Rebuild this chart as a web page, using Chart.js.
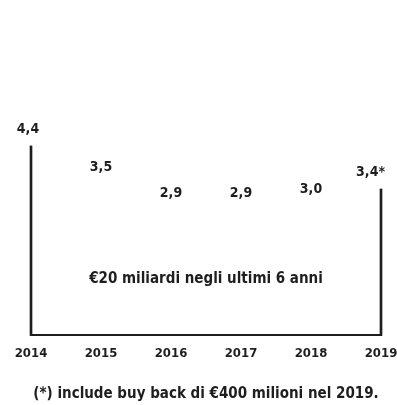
<!DOCTYPE html>
<html>
<head>
<meta charset="utf-8">
<script src="https://cdn.jsdelivr.net/npm/chart.js@4/dist/chart.umd.min.js"></script>
<style>
  html, body { margin: 0; padding: 0; background: #fff; }
  #wrap { width: 397px; height: 405px; }
</style>
</head>
<body>
<div id="wrap"><canvas id="chart"></canvas></div>
<script>
// data
const years = ["2014","2015","2016","2017","2018","2019"];
const payouts = [4.4, 3.5, 2.9, 2.9, 3.0, 3.4];
const marks = ["", "", "", "", "", "*"];
const centerNote = "€20 miliardi negli ultimi 6 anni";
const footNote = "(*) include buy back di €400 milioni nel 2019.";

const ink = '#1e1e1e';
const fontFamily = '"DejaVu Sans Condensed", "DejaVu Sans", sans-serif';

// only the first and last year get a vertical bracket line
const last = payouts.length - 1;
const bracket = payouts.map((v, i) => (i === 0 || i === last) ? v : null);

const fmt = (v, i) => v.toFixed(1).replace('.', ',') + marks[i];

const valueLabels = {
  id: 'valueLabels',
  afterDraw(chart) {
    const ctx = chart.ctx;
    const x = chart.scales.x;
    const y = chart.scales.y;
    ctx.save();
    ctx.fillStyle = ink;
    ctx.textBaseline = 'middle';
    ctx.font = 'bold 14px ' + fontFamily;
    payouts.forEach((v, i) => {
      let px = x.getPixelForValue(i);
      const py = y.getPixelForValue(v) - 17;
      ctx.textAlign = 'center';
      if (i === 0) px -= 3;
      if (i === last) { ctx.textAlign = 'right'; px += 4; }
      ctx.fillText(fmt(v, i), px, py);
    });
    // note inside the bracket
    const a = chart.chartArea;
    ctx.textAlign = 'center';
    ctx.font = 'bold 15px ' + fontFamily;
    ctx.fillText(centerNote, (a.left + a.right) / 2, y.getPixelForValue(1.3));
    ctx.restore();
  }
};

new Chart(document.getElementById('chart'), {
  type: 'bar',
  data: {
    labels: years,
    datasets: [{
      data: bracket,
      backgroundColor: ink,
      barThickness: 2,
      clip: false
    }]
  },
  options: {
    responsive: true,
    maintainAspectRatio: false,
    animation: false,
    layout: { padding: { top: 77, left: 31, right: 16, bottom: 2 } },
    scales: {
      x: {
        offset: false,
        grid: { display: false, drawTicks: false },
        border: { display: true, color: ink, width: 2 },
        ticks: {
          color: ink,
          padding: 10,
          maxRotation: 0,
          autoSkip: false,
          font: { family: fontFamily, size: 13, weight: 'bold' }
        },
        // let the end labels hang past the plot edges
        afterFit: (scale) => { scale.paddingLeft = 0; scale.paddingRight = 0; }
      },
      y: {
        display: false,
        min: 0,
        max: 6
      }
    },
    plugins: {
      legend: { display: false },
      tooltip: { enabled: false },
      subtitle: {
        display: true,
        position: 'bottom',
        text: footNote,
        color: ink,
        font: { family: fontFamily, size: 15, weight: 'bold' },
        padding: { top: 14, bottom: 0 }
      }
    }
  },
  plugins: [valueLabels]
});
</script>
</body>
</html>
